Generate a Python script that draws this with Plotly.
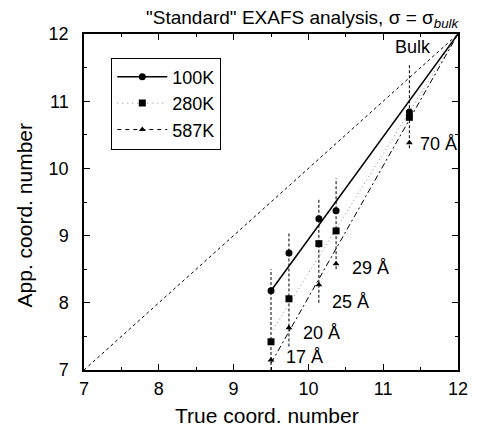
import plotly.graph_objects as go

# True coordination number of each cluster size (17, 20, 25, 29, 70 Å) and bulk
true_cn = [9.5, 9.74, 10.14, 10.37, 11.35, 12.0]
# Apparent coordination numbers from the standard EXAFS analysis
app_100k = [8.18, 8.74, 9.25, 9.37, 10.84, 12.0]
app_280k = [7.42, 8.06, 8.88, 9.07, 10.76, 12.0]
app_587k = [7.15, 7.63, 8.27, 8.58, 10.38, 12.0]
size_labels = ["17 Å", "20 Å", "25 Å", "29 Å", "70 Å"]

# Spread of the apparent values at each cluster size
spread_hi = [8.5, 9.05, 9.55, 9.85, 11.55]
spread_lo = [7.0, 7.35, 8.0, 8.5, 10.3]

# Straight trend lines running to the bulk value
trend_x = [9.5, 12.0]
trend_100k = [8.18, 12.0]
trend_280k = [7.55, 12.0]
trend_587k = [7.1, 12.0]

axis_ticks = [7, 8, 9, 10, 11, 12]

FONT = "Liberation Sans, Arial, sans-serif"
fig = go.Figure()

# y = x reference
fig.add_trace(go.Scatter(x=[7, 12], y=[7, 12], mode="lines", showlegend=False,
                         line=dict(color="black", width=1, dash="3px,3px"),
                         hoverinfo="skip"))

# vertical dashed spread lines
for xv, lo, hi in zip(true_cn, spread_lo, spread_hi):
    fig.add_trace(go.Scatter(x=[xv, xv], y=[lo, hi], mode="lines", showlegend=False,
                             line=dict(color="black", width=1, dash="3px,2px"),
                             hoverinfo="skip"))

# trend lines
fig.add_trace(go.Scatter(x=trend_x, y=trend_280k, mode="lines", showlegend=False,
                         line=dict(color="#8a8a8a", width=1, dash="1px,3px")))
fig.add_trace(go.Scatter(x=trend_x, y=trend_587k, mode="lines", showlegend=False,
                         line=dict(color="black", width=1, dash="6px,3px,2px,3px")))
fig.add_trace(go.Scatter(x=trend_x, y=trend_100k, mode="lines", showlegend=False,
                         line=dict(color="black", width=1.5)))

# markers
fig.add_trace(go.Scatter(x=true_cn[:-1], y=app_100k[:-1], mode="markers", name="100K",
                         marker=dict(symbol="circle", size=7, color="black"),
                         showlegend=False))
fig.add_trace(go.Scatter(x=true_cn[:-1], y=app_280k[:-1], mode="markers", name="280K",
                         marker=dict(symbol="square", size=7, color="black"),
                         showlegend=False))
fig.add_trace(go.Scatter(x=true_cn[:-1], y=app_587k[:-1], mode="markers", name="587K",
                         marker=dict(symbol="triangle-up", size=6, color="black"),
                         showlegend=False))

# legend-only entries
fig.add_trace(go.Scatter(x=[None], y=[None], mode="lines+markers", name="100K",
                         line=dict(color="black", width=1.5),
                         marker=dict(symbol="circle", size=7, color="black")))
fig.add_trace(go.Scatter(x=[None], y=[None], mode="lines+markers", name="280K",
                         line=dict(color="#8a8a8a", width=1, dash="1px,4px"),
                         marker=dict(symbol="square", size=7, color="black")))
fig.add_trace(go.Scatter(x=[None], y=[None], mode="lines+markers", name="587K",
                         line=dict(color="black", width=1, dash="4px,4px"),
                         marker=dict(symbol="triangle-up", size=6, color="black")))

# cluster size labels, offsets from the 587K marker
label_dx = [0.18, 0.16, 0.15, 0.18, 0.12]
label_dy = [0.04, -0.08, -0.26, -0.06, -0.02]
annotations = []
for i, lab in enumerate(size_labels):
    annotations.append(dict(x=true_cn[i] + label_dx[i], y=app_587k[i] + label_dy[i],
                            text=lab, showarrow=False, xanchor="left", yanchor="middle",
                            font=dict(size=18, color="black", family=FONT)))
annotations.append(dict(x=11.66, y=11.81, text="Bulk", showarrow=False,
                        xanchor="right", yanchor="middle",
                        font=dict(size=18, color="black", family=FONT)))
annotations.append(dict(x=0.586, y=1, xref="paper", yref="paper", yshift=15,
                        text='"Standard" EXAFS analysis, σ = σ<sub><i>bulk</i></sub>',
                        showarrow=False, xanchor="center", yanchor="middle",
                        font=dict(size=19, color="black", family=FONT)))
annotations.append(dict(x=0.49, y=0, xref="paper", yref="paper", yshift=-45,
                        text="True coord. number", showarrow=False,
                        xanchor="center", yanchor="middle",
                        font=dict(size=21, color="black", family=FONT)))
annotations.append(dict(x=0, y=0.46, xref="paper", yref="paper", xshift=-60,
                        text="App. coord. number", showarrow=False, textangle=-90,
                        xanchor="center", yanchor="middle",
                        font=dict(size=21, color="black", family=FONT)))

axis_common = dict(range=[7, 12], tickvals=axis_ticks, ticks="inside", ticklen=6,
                   tickwidth=1, tickcolor="black", showline=True, linecolor="black",
                   linewidth=1.5, mirror="ticks", showgrid=False, zeroline=False,
                   tickfont=dict(size=18, color="black", family=FONT),
                   minor=dict(dtick=0.5, ticks="inside", ticklen=3, tickcolor="black",
                              showgrid=False))

fig.update_layout(
    width=480, height=429,
    margin=dict(l=84, r=12, t=34, b=59),
    paper_bgcolor="white", plot_bgcolor="white",
    xaxis=dict(**axis_common, ticklabelstandoff=2),
    yaxis=dict(**axis_common, ticklabelstandoff=10),
    legend=dict(x=0.073, y=0.93, xanchor="left", yanchor="top",
                bgcolor="white", bordercolor="black", borderwidth=1,
                font=dict(size=18, color="black", family=FONT),
                tracegroupgap=0, itemwidth=50),
    annotations=annotations,
    font=dict(family=FONT, color="black"),
)

fig.write_html("out.html")
